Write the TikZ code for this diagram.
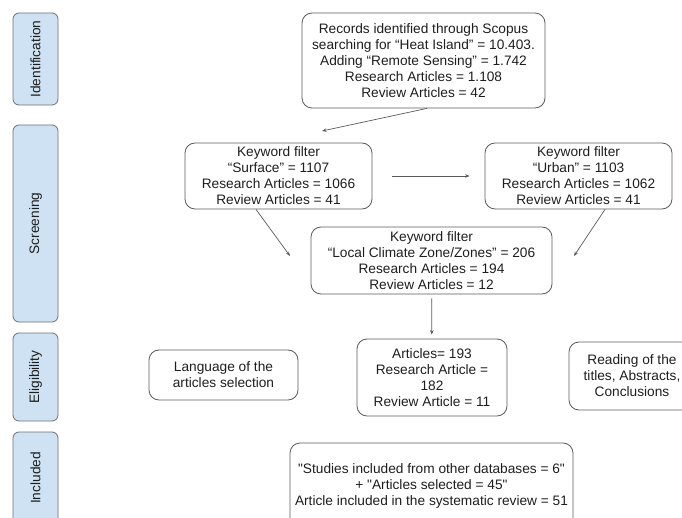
\documentclass[tikz,border=0pt]{standalone}
\usepackage{fontspec}
\setmainfont{Liberation Sans}[Ligatures=TeXOff]
\usepackage{xcolor}
\usetikzlibrary{arrows.meta}

\definecolor{stagefill}{HTML}{CFE2F3}
\definecolor{stageline}{HTML}{707070}
\definecolor{boxline}{HTML}{5A5A5A}
\definecolor{txtcol}{HTML}{1E1E1E}

\tikzset{
  stage/.style={draw=stageline, fill=stagefill, line width=0.8pt, rounded corners=6pt,
    rotate=90, inner sep=0pt, text=txtcol, font=\fontsize{13.7}{16}\selectfont},
  filterbox/.style={draw=boxline, line width=0.8pt, rounded corners=10pt, align=center,
    inner sep=0pt, text=txtcol, font=\fontsize{13.7}{16}\selectfont},
  flow/.style={draw=boxline, line width=0.7pt, -{Stealth[length=4.5pt,width=3.5pt]}},
}

\begin{document}
\begin{tikzpicture}[x=1pt,y=-1pt]
\useasboundingbox (0,0) rectangle (682,518);

% stages on the left
\node[stage, minimum width=92pt, minimum height=45pt] (ident) at (35.5,59) {Identification};
\node[stage, minimum width=197pt, minimum height=45pt] (screen) at (35.5,223.5) {Screening};
\node[stage, minimum width=88pt, minimum height=45pt] (elig) at (35.5,377) {Eligibility};
\node[stage, minimum width=92pt, minimum height=45pt] (incl) at (35.5,478) {Included};

% boxes
\node[filterbox, minimum width=243pt, minimum height=95pt] (top) at (423.5,60.5)
  {Records identified through Scopus\\searching for “Heat Island” = 10.403.\\Adding “Remote Sensing” = 1.742\\Research Articles = 1.108\\Review Articles = 42};
\node[filterbox, minimum width=187pt, minimum height=66pt] (surf) at (278.5,176)
  {Keyword filter\\“Surface” = 1107\\Research Articles = 1066\\Review Articles = 41};
\node[filterbox, minimum width=187pt, minimum height=66pt] (urban) at (578.5,176)
  {Keyword filter\\“Urban” = 1103\\Research Articles = 1062\\Review Articles = 41};
\node[filterbox, minimum width=241pt, minimum height=67pt] (lcz) at (431.5,260.5)
  {Keyword filter\\“Local Climate Zone/Zones” = 206\\Research Articles = 194\\Review Articles = 12};
\node[filterbox, minimum width=149pt, minimum height=50pt] (lang) at (223.5,375)
  {Language of the\\articles selection};
\node[filterbox, minimum width=150pt, minimum height=77pt] (arts) at (432,377.5)
  {Articles= 193\\Research Article =\\182\\Review Article = 11};
\node[filterbox, minimum width=126pt, minimum height=68pt] (read) at (632,376)
  {Reading of the\\titles, Abstracts,\\Conclusions};
\node[filterbox, minimum width=283pt, minimum height=86pt] (final) at (431.5,486)
  {"Studies included from other databases = 6"\\+ "Articles selected = 45"\\Article included in the systematic review = 51};

% arrows
\coordinate (surftip) at (322,131);
\coordinate (lcztipl) at (290,256);
\coordinate (lcztipr) at (574,256);
\draw[flow] ([xshift=3.5pt]top.south) -- (surftip);
\draw[flow, shorten <=20pt, shorten >=15pt] (surf) -- (urban);
\draw[flow] ([xshift=-22.5pt]surf.south) -- (lcztipl);
\draw[flow] ([xshift=26.5pt]urban.south) -- (lcztipr);
\draw[flow, shorten <=4pt, shorten >=4pt] (lcz) -- (arts);
\end{tikzpicture}
\end{document}
